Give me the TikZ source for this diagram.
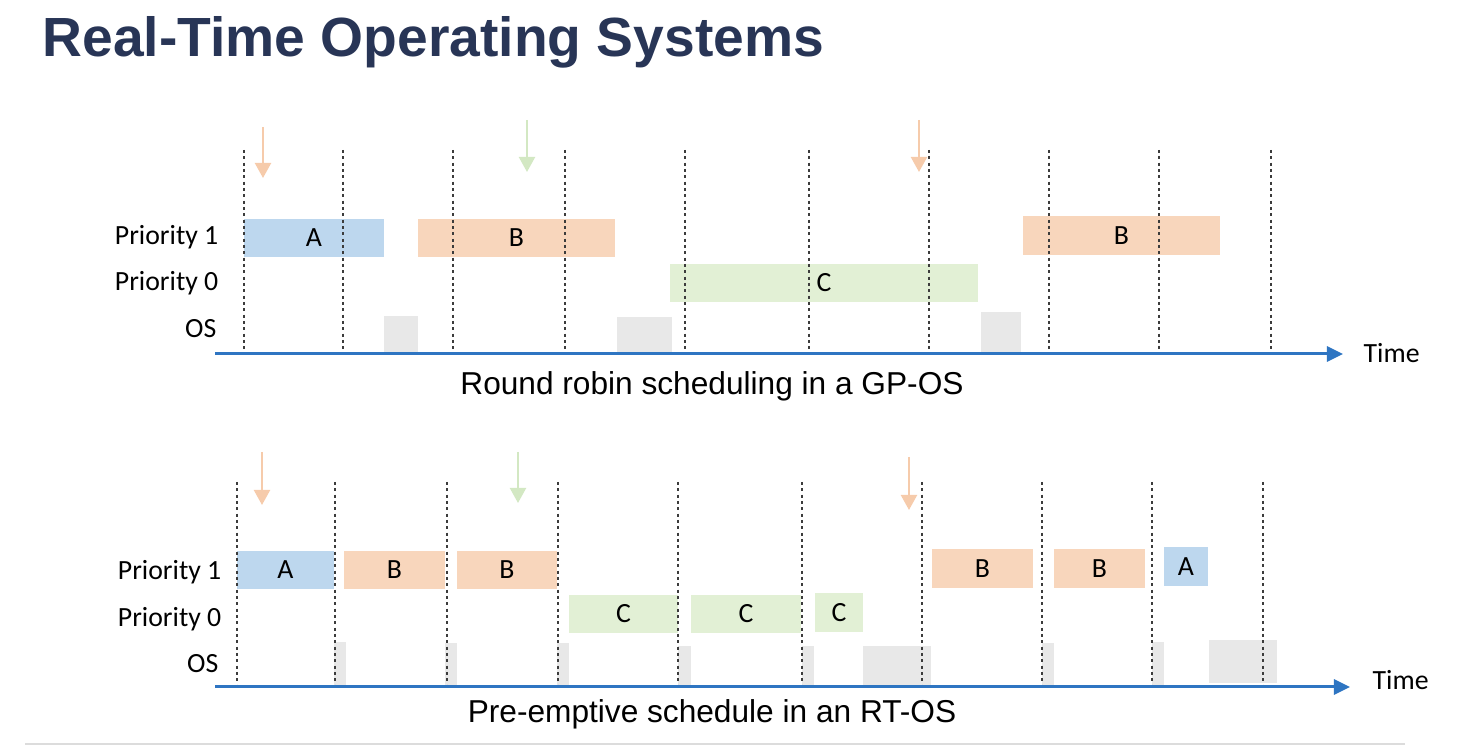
\documentclass[tikz,border=0pt]{standalone}
\usepackage{fontspec}
\setmainfont{Carlito}
\newfontfamily\capfont{Liberation Sans}
\usepackage{tikz}
\usetikzlibrary{arrows.meta,positioning}
\usepackage{xcolor}
\definecolor{Navy}{HTML}{283556}
\definecolor{AxisBlue}{HTML}{2E75C2}
\definecolor{SoftBlue}{HTML}{BDD7EE}
\definecolor{SoftOrange}{HTML}{F8D6BC}
\definecolor{SoftGreen}{HTML}{E2F0D5}
\definecolor{PinOrange}{HTML}{F6CBAB}
\definecolor{PinGreen}{HTML}{D3E8C3}
\definecolor{OsGray}{HTML}{E8E8E8}
\definecolor{TickGray}{HTML}{3C3C3C}
\definecolor{RuleGray}{HTML}{DCDCDC}
\tikzset{
 lbl/.style={font=\fontsize{7.9}{9}\selectfont, inner sep=0pt},
 caption/.style={font=\capfont\fontsize{9}{11}\selectfont, inner sep=0pt},
 slot/.style={inner sep=0pt, outer sep=0pt, font=\fontsize{7.9}{9}\selectfont},
 jobA/.style={slot, fill=SoftBlue},
 jobB/.style={slot, fill=SoftOrange},
 jobC/.style={slot, fill=SoftGreen},
 ostime/.style={slot, fill=OsGray},
 tickline/.style={draw=TickGray, line width=0.45pt, dash pattern=on 0.9pt off 0.9pt},
 timeaxis/.style={-{Triangle[width=1.5mm,length=1.6mm]}, draw=AxisBlue, line width=0.85pt},
 release/.style={-{Triangle[width=1.6mm,length=1.5mm]}, line width=0.6pt}
}
% name, style, x1, y1, x2, y2, text
\newcommand{\jobbox}[7]{\node[#2, minimum width={(#5-#3)*0.1mm}, minimum height={(#6-#4)*0.1mm}] (#1) at ({(#3+#5)/2},{(#4+#6)/2}) {#7};}

\begin{document}
\begin{tikzpicture}[x=0.01cm,y=-0.01cm]
\useasboundingbox (0,0) rectangle (1462,752);
\node[anchor=base west, inner sep=0pt, text=Navy, font=\capfont\bfseries\fontsize{15.7}{18}\selectfont] (title) at (42,57) {Real-Time Operating Systems};

% round robin
\jobbox{rrA}{jobA}{244}{219}{384}{257}{A}
\jobbox{rrB}{jobB}{418}{219}{615}{257}{B}
\jobbox{rrC}{jobC}{670}{264}{978}{302}{C}
\jobbox{rrB2}{jobB}{1023}{216}{1220}{255}{B}
\jobbox{rrOs1}{ostime}{384}{316}{418}{353}{}
\jobbox{rrOs2}{ostime}{617}{317}{672}{353}{}
\jobbox{rrOs3}{ostime}{981}{312}{1021}{353}{}
\foreach \x in {244,343,453,565,685,809,929,1049,1159,1271}
 \draw[tickline] (\x,150) -- (\x,353);
\node[lbl, anchor=base east] (rrP1) at (219,245) {Priority 1};
\node[lbl, anchor=base east] (rrP0) at (219,291) {Priority 0};
\node[lbl, anchor=base east] (rrOs) at (217,338) {OS};
\coordinate (rrAxS) at (215,354);
\coordinate (rrAxE) at (1343,354);
\draw[timeaxis] (rrAxS) -- (rrAxE);
\node[lbl, anchor=base west] (rrTime) at (1363,363) {Time};
\coordinate (rrR1s) at (263,127); \coordinate (rrR1e) at (263,178);
\coordinate (rrR2s) at (527,120); \coordinate (rrR2e) at (527,172);
\coordinate (rrR3s) at (919,120); \coordinate (rrR3e) at (919,172);
\draw[release, draw=PinOrange] (rrR1s) -- (rrR1e);
\draw[release, draw=PinGreen] (rrR2s) -- (rrR2e);
\draw[release, draw=PinOrange] (rrR3s) -- (rrR3e);
\node[caption, anchor=base] (rrCap) at (712,395) {Round robin scheduling in a GP-OS};

% pre-emptive
\jobbox{peA}{jobA}{237}{551}{334}{589}{A}
\jobbox{peB1}{jobB}{344}{551}{445}{589}{B}
\jobbox{peB2}{jobB}{457}{551}{557}{589}{B}
\jobbox{peC1}{jobC}{569}{595}{678}{633}{C}
\jobbox{peC2}{jobC}{691}{595}{801}{633}{C}
\jobbox{peC3}{jobC}{815}{593}{863}{632}{C}
\jobbox{peB3}{jobB}{932}{549}{1033}{588}{B}
\jobbox{peB4}{jobB}{1054}{549}{1145}{588}{B}
\jobbox{peA2}{jobA}{1164}{547}{1208}{586}{A}
\jobbox{peOs1}{ostime}{334}{642}{346}{685}{}
\jobbox{peOs2}{ostime}{445}{643}{457}{685}{}
\jobbox{peOs3}{ostime}{557}{643}{569}{685}{}
\jobbox{peOs4}{ostime}{678}{646}{691}{685}{}
\jobbox{peOs5}{ostime}{802}{646}{814}{685}{}
\jobbox{peOs6}{ostime}{863}{646}{931}{685}{}
\jobbox{peOs7}{ostime}{1042}{643}{1054}{685}{}
\jobbox{peOs8}{ostime}{1152}{642}{1164}{685}{}
\jobbox{peOs9}{ostime}{1209}{640}{1277}{683}{}
\foreach \x in {237,335,447,558,678,802,922,1042,1152,1263}
 \draw[tickline] (\x,482) -- (\x,685);
\node[lbl, anchor=base east] (peP1) at (222,580) {Priority 1};
\node[lbl, anchor=base east] (peP0) at (222,627) {Priority 0};
\node[lbl, anchor=base east] (peOs) at (219,673) {OS};
\coordinate (peAxS) at (215,687);
\coordinate (peAxE) at (1350,687);
\draw[timeaxis] (peAxS) -- (peAxE);
\node[lbl, anchor=base west] (peTime) at (1372,690) {Time};
\coordinate (peR1s) at (262,452); \coordinate (peR1e) at (262,505);
\coordinate (peR2s) at (518,452); \coordinate (peR2e) at (518,503);
\coordinate (peR3s) at (909,457); \coordinate (peR3e) at (909,510);
\draw[release, draw=PinOrange] (peR1s) -- (peR1e);
\draw[release, draw=PinGreen] (peR2s) -- (peR2e);
\draw[release, draw=PinOrange] (peR3s) -- (peR3e);
\node[caption, anchor=base] (peCap) at (712,723) {Pre-emptive schedule in an RT-OS};

\coordinate (ruleS) at (25,744);
\coordinate (ruleE) at (1405,744);
\draw[RuleGray, line width=0.5pt] (ruleS) -- (ruleE);
\end{tikzpicture}
\end{document}
